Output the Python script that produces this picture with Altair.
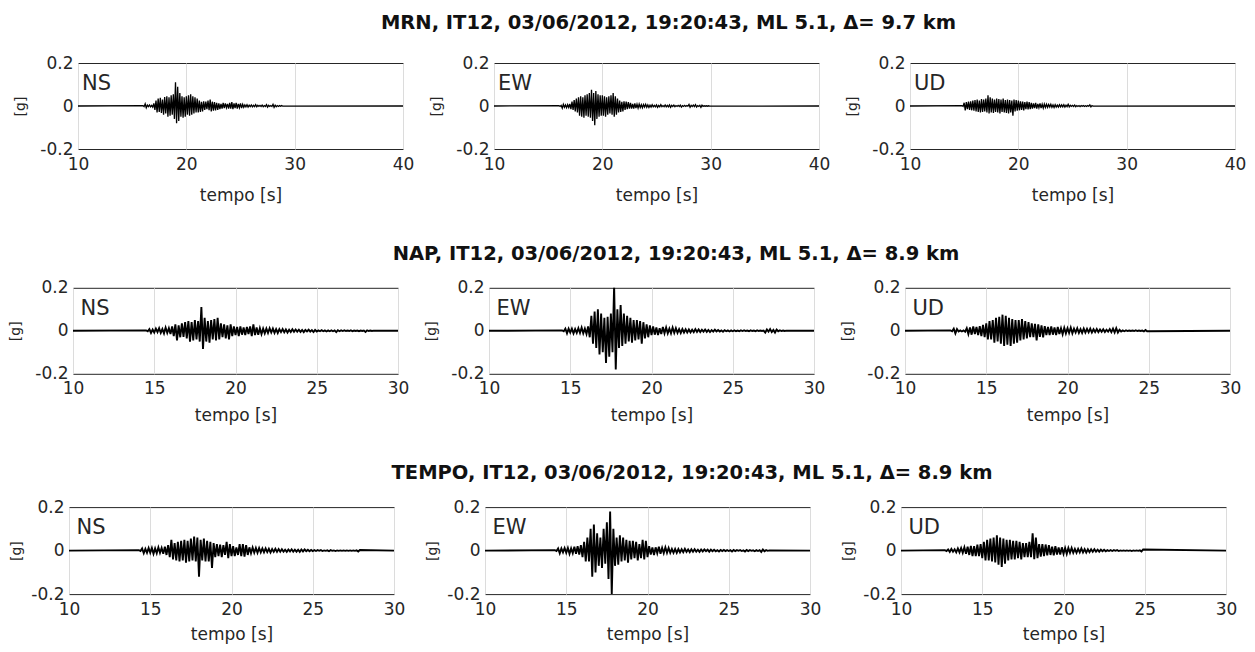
import altair as alt
import pandas as pd

DT = 0.1
TITLES = [
    "MRN, IT12, 03/06/2012, 19:20:43, ML 5.1, \u0394= 9.7 km",
    "NAP, IT12, 03/06/2012, 19:20:43, ML 5.1, \u0394= 8.9 km",
    "TEMPO, IT12, 03/06/2012, 19:20:43, ML 5.1, \u0394= 8.9 km",
]
COMPONENTS = ["NS", "EW", "UD"]
X_DOMAINS = [[10, 40], [10, 30], [10, 30]]
X_TICKS = [[10, 20, 30, 40], [10, 15, 20, 25, 30], [10, 15, 20, 25, 30]]
Y_TICKS = [-0.2, 0, 0.2]

# ---- MRN ----
MRN_NS_T0 = 16.0
MRN_NS = [
    0.002, -0.003, 0.01, -0.008, 0.004, -0.003, 0.005, -0.004, 0.003, -0.005,
    0.012, -0.018, 0.025, -0.03, 0.035, -0.028, 0.038, -0.032, 0.03, -0.04,
    0.042, -0.035, 0.045, -0.05, 0.04, -0.045, 0.05, -0.04, 0.055, -0.06,
    0.11, -0.08, 0.09, -0.07, 0.06, -0.05, 0.045, -0.055, 0.04, -0.05,
    0.045, -0.04, 0.05, -0.045, 0.055, -0.04, 0.045, -0.035, 0.04, -0.03,
    0.035, -0.03, 0.025, -0.028, 0.02, -0.025, 0.022, -0.018, 0.02, -0.015,
    0.025, -0.02, 0.03, -0.025, 0.02, -0.022, 0.018, -0.02, 0.015, -0.018,
    0.012, -0.015, 0.01, -0.012, 0.014, -0.01, 0.012, -0.008, 0.01, -0.012,
    0.015, -0.012, 0.018, -0.015, 0.012, -0.01, 0.014, -0.012, 0.01, -0.008,
    0.012, -0.01, 0.008, -0.006, 0.005, -0.004, 0.006, -0.005, 0.004, -0.003,
    0.005, -0.004, 0.003, -0.003, 0.006, -0.004, 0.003, -0.002, 0.003, -0.002,
    0.004, -0.003, 0.002, -0.002, 0.006, -0.005, 0.003, -0.002, 0.002, -0.002,
    0.008, -0.006, 0.004, -0.003, 0.002, -0.002, 0.002, -0.001, 0.002, -0.001,
]
MRN_EW_T0 = 16.0
MRN_EW = [
    0.002, -0.002, 0.003, -0.01, 0.008, -0.006, 0.005, -0.008, 0.006, -0.007,
    0.01, -0.015, 0.02, -0.018, 0.028, -0.025, 0.035, -0.03, 0.04, -0.045,
    0.045, -0.05, 0.04, -0.055, 0.05, -0.045, 0.055, -0.05, 0.06, -0.055,
    0.075, -0.07, 0.06, -0.09, 0.07, -0.06, 0.055, -0.05, 0.05, -0.045,
    0.05, -0.045, 0.045, -0.05, 0.04, -0.04, 0.045, -0.035, 0.05, -0.04,
    0.06, -0.05, 0.045, -0.04, 0.035, -0.03, 0.025, -0.028, 0.02, -0.025,
    0.022, -0.018, 0.02, -0.015, 0.018, -0.012, 0.015, -0.012, 0.01, -0.012,
    0.012, -0.01, 0.008, -0.01, 0.009, -0.007, 0.006, -0.008, 0.007, -0.005,
    0.008, -0.006, 0.005, -0.007, 0.004, -0.005, 0.006, -0.004, 0.003, -0.004,
    0.005, -0.006, 0.003, -0.004, 0.006, -0.003, 0.002, -0.003, 0.005, -0.004,
    0.003, -0.004, 0.005, -0.006, 0.003, -0.002, 0.004, -0.003, 0.002, -0.002,
    0.003, -0.002, 0.004, -0.005, 0.002, -0.002, 0.003, -0.002, 0.002, -0.001,
    0.007, -0.006, 0.003, -0.002, 0.004, -0.003, 0.006, -0.005, 0.002, -0.002,
    0.003, -0.006, 0.004, -0.002, 0.001, -0.001, 0.001, -0.001, 0.001, -0.001,
]
MRN_UD_T0 = 14.8
MRN_UD = [
    0.002, -0.002,
    0.015, -0.02, 0.018, -0.015, 0.02, -0.018, 0.022, -0.02, 0.025, -0.022,
    0.028, -0.025, 0.03, -0.028, 0.025, -0.03, 0.032, -0.028, 0.03, -0.025,
    0.035, -0.03, 0.05, -0.035, 0.04, -0.03, 0.035, -0.032, 0.03, -0.028,
    0.035, -0.03, 0.032, -0.035, 0.03, -0.028, 0.035, -0.03, 0.028, -0.032,
    0.03, -0.035, 0.028, -0.03, 0.025, -0.045, 0.03, -0.025, 0.028, -0.022,
    0.025, -0.02, 0.022, -0.018, 0.02, -0.02, 0.018, -0.015, 0.02, -0.016,
    0.018, -0.015, 0.015, -0.012, 0.012, -0.01, 0.014, -0.012, 0.01, -0.008,
    0.012, -0.01, 0.008, -0.01, 0.009, -0.007, 0.008, -0.006, 0.007, -0.005,
    0.008, -0.006, 0.005, -0.007, 0.006, -0.005, 0.004, -0.005, 0.006, -0.004,
    0.005, -0.004, 0.006, -0.005, 0.004, -0.003, 0.008, -0.004, 0.003, -0.002,
    0.003, -0.002, 0.004, -0.003, 0.002, -0.002, 0.002, -0.003, 0.002, -0.001,
    0.002, -0.002, 0.001, -0.002, 0.002, -0.001, 0.005, -0.004, 0.002, -0.001,
]

# ---- NAP ----
NAP_NS_T0 = 14.5
NAP_NS = [
    0.002, -0.002, 0.008, -0.01, 0.006,
    -0.008, 0.01, -0.006, 0.012, -0.01, 0.008, -0.012, 0.015, -0.01, 0.012,
    -0.015, 0.02, -0.025, 0.03, -0.045, 0.025, -0.03, 0.035, -0.028, 0.04,
    -0.035, 0.045, -0.05, 0.04, -0.045, 0.05, -0.04, 0.045, -0.05, 0.11,
    -0.085, 0.06, -0.05, 0.045, -0.055, 0.05, -0.04, 0.055, -0.045, 0.06,
    -0.04, 0.035, -0.03, 0.03, -0.035, 0.025, -0.04, 0.03, -0.025, 0.02,
    -0.02, 0.018, -0.025, 0.02, -0.018, 0.015, -0.02, 0.018, -0.015, 0.02,
    -0.025, 0.03, -0.02, 0.015, -0.018, 0.012, -0.015, 0.01, -0.012, 0.01,
    -0.01, 0.012, -0.008, 0.01, -0.01, 0.008, -0.01, 0.008, -0.006, 0.008,
    -0.007, 0.006, -0.008, 0.005, -0.006, 0.007, -0.005, 0.006, -0.004, 0.005,
    -0.005, 0.004, -0.006, 0.004, -0.003, 0.005, -0.004, 0.003, -0.006, 0.004,
    -0.003, 0.002, -0.002, 0.003, -0.002, 0.002, -0.003, 0.002, -0.002, 0.002,
    -0.002, 0.002, -0.006, 0.003, -0.002, 0.002, -0.001, 0.002, -0.001, 0.001,
    -0.001, 0.002, -0.002, 0.001, -0.001, 0.001, -0.002, 0.001, -0.001, 0.001,
    -0.005, 0.002, -0.001, 0.001, -0.001, 0.001,
]
NAP_EW_T0 = 14.5
NAP_EW = [
    0.002, -0.002, 0.01, -0.012, 0.01,
    -0.008, 0.01, -0.012, 0.008, -0.01, 0.012, -0.01, 0.015, -0.012, 0.01,
    -0.015, 0.02, -0.03, 0.07, -0.06, 0.09, -0.08, 0.1, -0.11, 0.08,
    -0.1, 0.06, -0.15, 0.065, -0.12, 0.08, -0.1, 0.21, -0.18, 0.1,
    -0.08, 0.12, -0.07, 0.08, -0.06, 0.07, -0.05, 0.06, -0.055, 0.05,
    -0.045, 0.05, -0.04, 0.045, -0.06, 0.04, -0.035, 0.03, -0.03, 0.025,
    -0.02, 0.02, -0.018, 0.015, -0.02, 0.012, -0.015, 0.018, -0.012, 0.015,
    -0.012, 0.01, -0.012, 0.015, -0.01, 0.012, -0.01, 0.008, -0.01, 0.008,
    -0.008, 0.007, -0.008, 0.006, -0.007, 0.005, -0.006, 0.008, -0.005, 0.006,
    -0.006, 0.005, -0.004, 0.006, -0.005, 0.004, -0.006, 0.003, -0.004, 0.005,
    -0.003, 0.004, -0.003, 0.002, -0.004, 0.003, -0.002, 0.002, -0.003, 0.002,
    -0.002, 0.002, -0.002, 0.001, -0.002, 0.002, -0.001, 0.002, -0.001, 0.001,
    -0.002, 0.002, -0.001, 0.001, -0.002, 0.002, -0.001, 0.001, -0.001, 0.001,
    -0.008, 0.006, -0.004, 0.008, -0.006, 0.004, -0.008, 0.006, -0.002, 0.002,
    -0.001, 0.001, -0.001, 0.001,
]
NAP_UD_T0 = 12.8
NAP_UD = [
    0.002, -0.002,
    0.01, -0.012, 0.008, -0.003, 0.002, -0.003, 0.002, -0.004, 0.012, -0.015,
    0.015, -0.018, 0.02, -0.015, 0.018, -0.02, 0.022, -0.025, 0.028, -0.03,
    0.035, -0.04, 0.045, -0.04, 0.05, -0.055, 0.06, -0.05, 0.065, -0.06,
    0.075, -0.07, 0.07, -0.065, 0.06, -0.07, 0.055, -0.06, 0.05, -0.055,
    0.05, -0.045, 0.055, -0.04, 0.045, -0.035, 0.04, -0.03, 0.035, -0.03,
    0.032, -0.045, 0.03, -0.028, 0.025, -0.03, 0.022, -0.02, 0.018, -0.02,
    0.02, -0.018, 0.015, -0.02, 0.018, -0.015, 0.012, -0.016, 0.014, -0.012,
    0.012, -0.01, 0.015, -0.012, 0.01, -0.008, 0.012, -0.01, 0.008, -0.01,
    0.01, -0.008, 0.009, -0.007, 0.01, -0.008, 0.007, -0.006, 0.008, -0.006,
    0.006, -0.005, 0.007, -0.006, 0.005, -0.004, 0.008, -0.006, 0.01, -0.008,
    0.012, -0.008, 0.005, -0.003, 0.002, -0.002, 0.002, -0.001, 0.001, -0.001,
    0.001, -0.001, 0.002, -0.001, 0.001, -0.001, 0.001, -0.003, 0.004, -0.002,
]

# ---- TEMPO ----
TEMPO_NS_T0 = 14.3
TEMPO_NS = [
    0.002, -0.002, 0.01, -0.012, 0.008, -0.01, 0.012,
    -0.01, 0.012, -0.015, 0.01, -0.012, 0.015, -0.01, 0.012, -0.015, 0.018,
    -0.02, 0.025, -0.03, 0.05, -0.04, 0.035, -0.045, 0.04, -0.05, 0.045,
    -0.045, 0.05, -0.055, 0.045, -0.05, 0.055, -0.045, 0.065, -0.05, 0.06,
    -0.12, 0.05, -0.045, 0.055, -0.05, 0.045, -0.05, 0.04, -0.08, 0.035,
    -0.03, 0.03, -0.025, 0.028, -0.03, 0.025, -0.02, 0.04, -0.035, 0.03,
    -0.025, 0.02, -0.025, 0.015, -0.02, 0.03, -0.025, 0.03, -0.028, 0.025,
    -0.02, 0.015, -0.012, 0.014, -0.01, 0.012, -0.01, 0.012, -0.008, 0.01,
    -0.008, 0.01, -0.007, 0.008, -0.009, 0.007, -0.006, 0.008, -0.006, 0.007,
    -0.005, 0.006, -0.005, 0.004, -0.006, 0.005, -0.004, 0.006, -0.005, 0.004,
    -0.005, 0.004, -0.006, 0.005, -0.004, 0.005, -0.003, 0.004, -0.003, 0.003,
    -0.002, 0.002, -0.002, 0.002, -0.001, 0.002, -0.002, 0.001, -0.001, 0.001,
    -0.003, 0.002, -0.001, 0.001, -0.002, 0.001, -0.001, 0.001, -0.001, 0.001,
    -0.001, 0.001, -0.001, 0.001, -0.001, 0.001, -0.001, 0.001, -0.004, 0.003,
]
TEMPO_EW_T0 = 14.3
TEMPO_EW = [
    0.002, -0.002, 0.01, -0.012, 0.01, -0.008, 0.012,
    -0.01, 0.012, -0.015, 0.01, -0.012, 0.018, -0.015, 0.02, -0.018, 0.025,
    -0.03, 0.04, -0.05, 0.06, -0.05, 0.1, -0.12, 0.12, -0.1, 0.08,
    -0.07, 0.06, -0.08, 0.1, -0.06, 0.13, -0.13, 0.18, -0.2, 0.1,
    -0.07, 0.06, -0.065, 0.07, -0.05, 0.06, -0.045, 0.05, -0.055, 0.045,
    -0.04, 0.045, -0.035, 0.04, -0.045, 0.03, -0.035, 0.05, -0.04, 0.045,
    -0.03, 0.02, -0.018, 0.015, -0.02, 0.015, -0.012, 0.018, -0.015, 0.012,
    -0.012, 0.015, -0.01, 0.012, -0.01, 0.008, -0.01, 0.008, -0.01, 0.007,
    -0.008, 0.006, -0.007, 0.008, -0.006, 0.005, -0.007, 0.006, -0.005, 0.006,
    -0.005, 0.004, -0.006, 0.005, -0.004, 0.005, -0.003, 0.004, -0.005, 0.004,
    -0.003, 0.004, -0.003, 0.002, -0.004, 0.003, -0.002, 0.003, -0.002, 0.002,
    -0.002, 0.002, -0.004, 0.003, -0.002, 0.002, -0.001, 0.002, -0.002, 0.001,
    -0.004, 0.003, -0.002, 0.002, -0.001, 0.001, -0.003, 0.002, -0.002, 0.002,
    -0.006, 0.005, -0.003, 0.002, -0.001, 0.001,
]
TEMPO_UD_T0 = 12.7
TEMPO_UD = [
    0.002, -0.002, 0.005,
    -0.006, 0.008, -0.005, 0.006, -0.008, 0.01, -0.008, 0.012, -0.01, 0.015,
    -0.015, 0.018, -0.02, 0.022, -0.025, 0.02, -0.025, 0.028, -0.025, 0.03,
    -0.035, 0.04, -0.045, 0.05, -0.045, 0.055, -0.05, 0.06, -0.055, 0.07,
    -0.065, 0.06, -0.075, 0.055, -0.06, 0.05, -0.045, 0.05, -0.04, 0.045,
    -0.04, 0.045, -0.035, 0.04, -0.04, 0.035, -0.03, 0.035, -0.03, 0.04,
    -0.03, 0.08, -0.04, 0.06, -0.035, 0.03, -0.028, 0.03, -0.025, 0.028,
    -0.022, 0.025, -0.02, 0.018, -0.022, 0.02, -0.018, 0.015, -0.018, 0.015,
    -0.015, 0.012, -0.015, 0.012, -0.01, 0.012, -0.01, 0.008, -0.01, 0.008,
    -0.008, 0.01, -0.008, 0.007, -0.009, 0.006, -0.007, 0.006, -0.005, 0.006,
    -0.005, 0.004, -0.005, 0.004, -0.003, 0.004, -0.003, 0.002, -0.002, 0.002,
    -0.002, 0.002, -0.001, 0.002, -0.002, 0.001, -0.001, 0.001, -0.001, 0.001,
    -0.001, 0.001, -0.002, 0.001, -0.001, 0.001, -0.001, 0.001, -0.004, 0.005,
]

STATIONS = [
    [(MRN_NS_T0, MRN_NS), (MRN_EW_T0, MRN_EW), (MRN_UD_T0, MRN_UD)],
    [(NAP_NS_T0, NAP_NS), (NAP_EW_T0, NAP_EW), (NAP_UD_T0, NAP_UD)],
    [(TEMPO_NS_T0, TEMPO_NS), (TEMPO_EW_T0, TEMPO_EW), (TEMPO_UD_T0, TEMPO_UD)],
]

FONT = "DejaVu Sans"
TXT = "#262626"
PANEL_W = [325, 325, 325]
PANEL_H = [86, 86, 87]
COL_SPACING = 91
ROW_SPACER = [10, 5, 1]
LINE_W = [1.3, 1.9, 1.9]
Y_TITLE_PAD = [12.3, 12.3, 7.0]
X_TITLE_PAD = [15.1, 11.1, 9.6]
LABEL_DX = [4, 7.5, 7.5]
# row-title placement, relative to the middle panel of each row
TITLE_X = [174.5, 187, 207]
TITLE_Y = [-34.5, -27.7, -27.7]


def trace_frame(t0, values, xdom):
    t = [xdom[0]] + [round(t0 + i * DT, 3) for i in range(len(values))] + [xdom[1]]
    a = [0.0] + list(values) + [0.0]
    return pd.DataFrame({"t": t, "a": a})


def panel(r, c):
    t0, vals = STATIONS[r][c]
    xdom = X_DOMAINS[r]
    df = trace_frame(t0, vals, xdom)
    line = alt.Chart(df).mark_line(color="black", strokeWidth=LINE_W[r], clip=True).encode(
        x=alt.X("t:Q",
                scale=alt.Scale(domain=xdom, nice=False, zero=False),
                axis=alt.Axis(values=X_TICKS[r], title="tempo [s]", grid=True,
                              gridColor="#dcdcdc", gridWidth=1, labelFlush=False,
                              labelPadding=7, titlePadding=X_TITLE_PAD[r])),
        y=alt.Y("a:Q",
                scale=alt.Scale(domain=[-0.2, 0.2], nice=False),
                axis=alt.Axis(values=Y_TICKS, title="[g]", grid=False, labelFlush=False,
                              labelExpr="'' + datum.value", labelPadding=5,
                              titlePadding=Y_TITLE_PAD[r], titleFontSize=14)),
    )
    lab = alt.Chart(pd.DataFrame({"c": [COMPONENTS[c]]})).mark_text(
        align="left", baseline="alphabetic", font=FONT, fontSize=21, color=TXT
    ).encode(text="c:N", x=alt.value(LABEL_DX[r]), y=alt.value(27))
    layers = [line, lab]
    if c == 1:
        ttl = alt.Chart(pd.DataFrame({"s": [TITLES[r]]})).mark_text(
            align="center", baseline="alphabetic", font=FONT, fontSize=19.5,
            fontWeight="bold", color="#111111"
        ).encode(text="s:N", x=alt.value(TITLE_X[r]), y=alt.value(TITLE_Y[r]))
        layers.append(ttl)
    return alt.layer(*layers).properties(width=PANEL_W[c], height=PANEL_H[r])


def spacer(w, h):
    return alt.Chart(pd.DataFrame({"v": [0]})).mark_point(opacity=0).encode(
        x=alt.value(0), y=alt.value(0)
    ).properties(width=w, height=h, view=alt.ViewBackground(stroke=None))


def row(r):
    p = [spacer(ROW_SPACER[r], PANEL_H[r])] + [panel(r, c) for c in range(3)]
    return alt.HConcatChart(hconcat=p, spacing=COL_SPACING, bounds="flush")


rows23 = alt.VConcatChart(vconcat=[row(1), row(2)], spacing=37.3)
chart = alt.VConcatChart(vconcat=[row(0), rows23], spacing=38.8)

chart = chart.properties(
    padding={"left": -34, "top": 4, "right": 0, "bottom": 0},
    background="white",
).configure_view(
    stroke=TXT, strokeWidth=1
).configure_axis(
    labelFont=FONT, labelFontSize=17, labelColor=TXT,
    titleFont=FONT, titleFontSize=17, titleColor=TXT, titleFontWeight="normal",
    domain=False, ticks=False,
)

chart.save("out.html", embed_options={"renderer": "svg", "actions": False})
